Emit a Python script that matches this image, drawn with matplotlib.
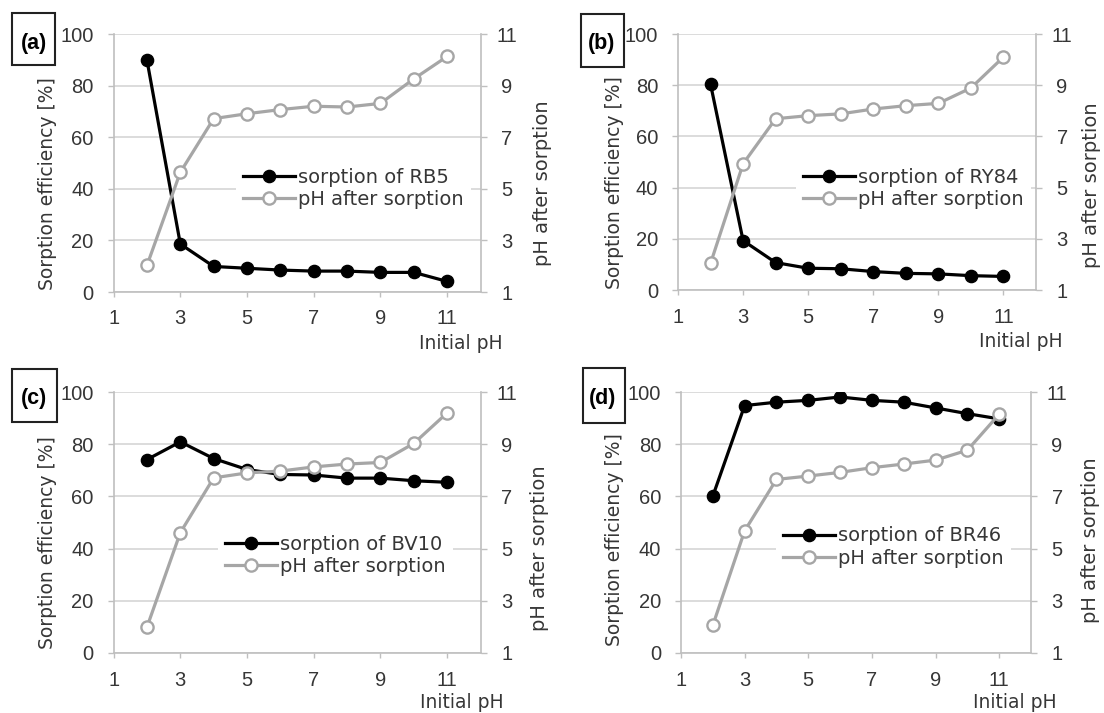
import matplotlib
matplotlib.use("Agg")
import matplotlib.pyplot as plt
from matplotlib.patches import Rectangle

# ---------------- data ----------------
initial_ph = [2, 3, 4, 5, 6, 7, 8, 9, 10, 11]

sorption_rb5 = [89.9, 18.6, 9.9, 9.2, 8.5, 8.1, 8.1, 7.6, 7.6, 4.1]
ph_after_rb5 = [2.03, 5.64, 7.72, 7.91, 8.07, 8.20, 8.17, 8.31, 9.26, 10.13]

sorption_ry84 = [80.4, 19.3, 10.7, 8.5, 8.3, 7.2, 6.5, 6.3, 5.6, 5.3]
ph_after_ry84 = [2.04, 5.93, 7.69, 7.81, 7.88, 8.07, 8.20, 8.29, 8.89, 10.10]

sorption_bv10 = [74.1, 80.9, 74.5, 70.3, 68.4, 68.2, 67.0, 67.0, 66.0, 65.4]
ph_after_bv10 = [1.99, 5.61, 7.71, 7.90, 7.97, 8.13, 8.24, 8.30, 9.03, 10.20]

sorption_br46 = [60.1, 94.8, 96.1, 96.8, 98.1, 96.8, 96.1, 93.9, 91.7, 89.7]
ph_after_br46 = [2.06, 5.68, 7.65, 7.78, 7.92, 8.10, 8.24, 8.39, 8.77, 10.15]

panel_letters = ["(a)", "(b)", "(c)", "(d)"]
dye_names = ["RB5", "RY84", "BV10", "BR46"]
x_ticks = [1, 3, 5, 7, 9, 11]
left_ticks = [0, 20, 40, 60, 80, 100]
right_ticks = [1, 3, 5, 7, 9, 11]

# ---------------- style ----------------
W, H = 1104, 713
plt.rcParams['font.family'] = ['Liberation Sans', 'DejaVu Sans']
TXT = '#363636'
GRID = '#d9d9d9'
SPINE = '#bfbfbf'
GRAY = '#a6a6a6'
LABEL_FONT = ['DejaVu Sans']

fig = plt.figure(figsize=(W / 100, H / 100), dpi=100)

def px_rect(l, t, r, b):
    return [l / W, 1 - b / H, (r - l) / W, (b - t) / H]

panels = [
    dict(rect=px_rect(113.6, 34, 480.5, 292), s=sorption_rb5, p=ph_after_rb5,
         leg=(0.334, 0.401), ylab=(-0.179, 0.42), rlab=(1.170, 0.42), xlab=(1.059, -0.198),
         box=(12, 13, 55, 65), btxt=(33.5, 43)),
    dict(rect=px_rect(678, 34, 1036, 290), s=sorption_ry84, p=ph_after_ry84,
         leg=(0.330, 0.398), ylab=(-0.176, 0.418), rlab=(1.154, 0.41), xlab=(1.073, -0.203),
         box=(581, 14, 624, 67), btxt=(602, 43)),
    dict(rect=px_rect(113.6, 392, 480.5, 653), s=sorption_bv10, p=ph_after_bv10,
         leg=(0.285, 0.374), ylab=(-0.179, 0.425), rlab=(1.160, 0.40), xlab=(1.064, -0.188),
         box=(11.5, 369, 56.5, 422), btxt=(34, 399)),
    dict(rect=px_rect(681, 392, 1031, 653), s=sorption_br46, p=ph_after_br46,
         leg=(0.271, 0.406), ylab=(-0.189, 0.433), rlab=(1.171, 0.433), xlab=(1.074, -0.188),
         box=(583, 368, 625, 423), btxt=(603, 399)),
]

for i, pan in enumerate(panels):
    ax = fig.add_axes(pan['rect'])
    ax2 = ax.twinx()

    ax.set_xlim(1, 12)
    ax.set_ylim(0, 100)
    ax2.set_ylim(1, 11)
    ax.set_xticks(x_ticks)
    ax.set_yticks(left_ticks)
    ax2.set_yticks(right_ticks)

    ax.set_axisbelow(True)
    ax.yaxis.grid(True, color=GRID, lw=1.3)

    for a in (ax, ax2):
        a.spines['top'].set_visible(False)
        for sp in a.spines.values():
            sp.set_color(SPINE)
            sp.set_linewidth(1.2)
    ax.spines['right'].set_visible(False)
    ax2.spines['left'].set_visible(False)
    ax2.spines['bottom'].set_visible(False)

    ax.tick_params(axis='x', direction='out', length=3.6, width=1.0, color=SPINE,
                   pad=9, labelsize=14.5, labelcolor=TXT)
    ax.tick_params(axis='y', direction='out', length=4.3, width=1.0, color=SPINE,
                   pad=10, labelsize=14.5, labelcolor=TXT)
    ax2.tick_params(axis='y', direction='out', length=4.3, width=1.0, color=SPINE,
                    pad=14.5, labelsize=14.5, labelcolor=TXT)
    plt.setp(ax2.get_yticklabels(), ha='center')

    l1, = ax.plot(initial_ph, pan['s'], color='black', lw=2.3, marker='o',
                  markersize=8.8, markerfacecolor='black', markeredgecolor='black', zorder=3)
    l2, = ax2.plot(initial_ph, pan['p'], color=GRAY, lw=2.3, marker='o',
                   markersize=8.8, markerfacecolor='white', markeredgecolor=GRAY,
                   markeredgewidth=1.7, zorder=3)

    leg = ax2.legend([l1, l2], [f"sorption of {dye_names[i]}", "pH after sorption"],
                     loc='center left', bbox_to_anchor=pan['leg'], borderaxespad=0,
                     borderpad=0.35, handlelength=2.7, handletextpad=0.15,
                     labelspacing=0.16, numpoints=1, frameon=True, fancybox=False,
                     prop={'family': LABEL_FONT, 'size': 14})
    leg.get_frame().set_facecolor('white')
    leg.get_frame().set_edgecolor('none')
    leg.get_frame().set_alpha(1)
    for t in leg.get_texts():
        t.set_color(TXT)
    leg.set_zorder(5)

    ax.text(*pan['ylab'], "Sorption efficiency [%]", transform=ax.transAxes,
            rotation=90, ha='center', va='center', fontsize=13.5,
            family=LABEL_FONT, color=TXT)
    ax.text(*pan['rlab'], "pH after sorption", transform=ax.transAxes,
            rotation=90, ha='center', va='center', fontsize=14,
            family=LABEL_FONT, color=TXT)
    ax.text(*pan['xlab'], "Initial pH", transform=ax.transAxes,
            ha='right', va='center', fontsize=13.5, family=LABEL_FONT, color=TXT,
            clip_on=False)

    l, t, r, b = pan['box']
    fig.patches.append(Rectangle((l / W, 1 - b / H), (r - l) / W, (b - t) / H,
                                 transform=fig.transFigure, facecolor='white',
                                 edgecolor='#222222', lw=1.5, zorder=10))
    fig.text(pan['btxt'][0] / W, 1 - pan['btxt'][1] / H, panel_letters[i],
             ha='center', va='center', fontsize=15.5, fontweight='bold',
             family=['Liberation Sans', 'DejaVu Sans'], color='black', zorder=11)

fig.savefig('out.png', dpi=100)
